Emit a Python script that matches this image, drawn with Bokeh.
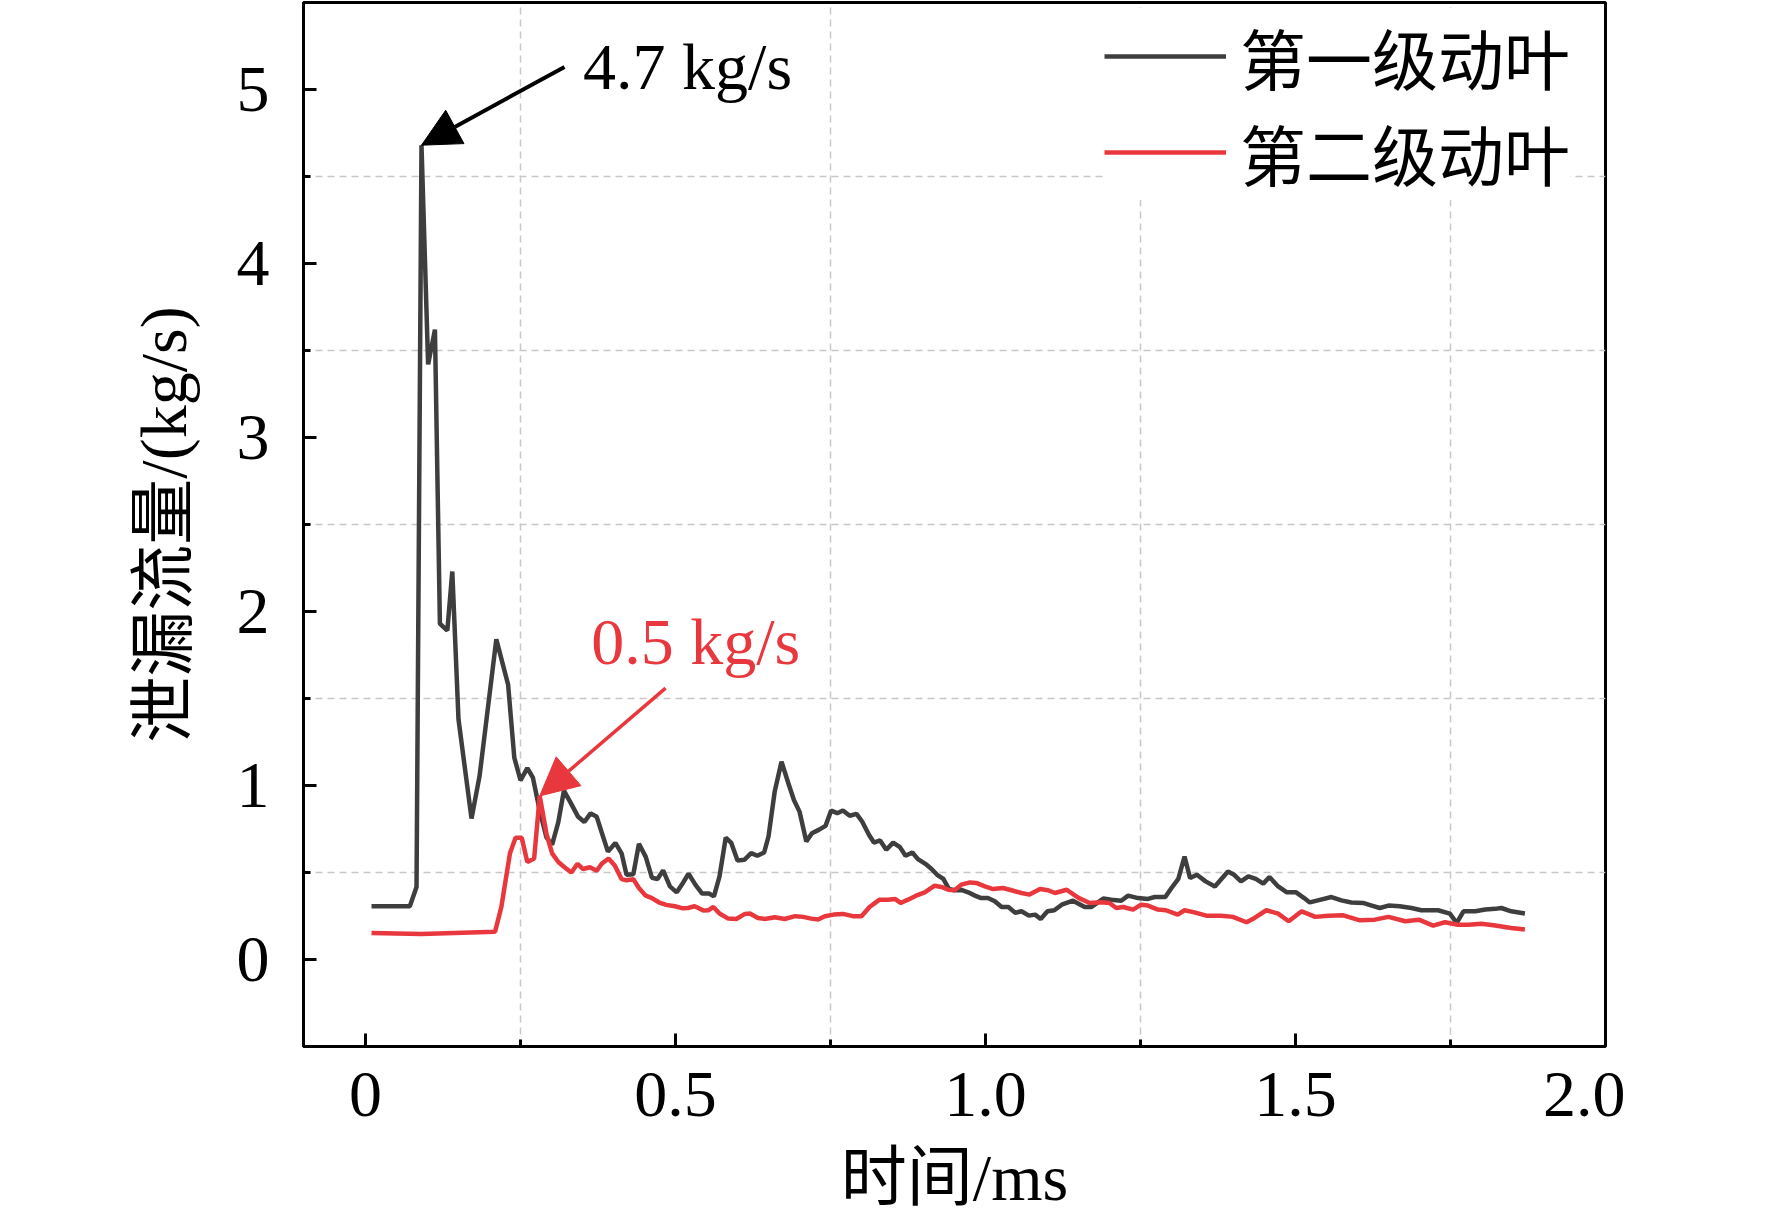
from bokeh.plotting import figure
from bokeh.models import (Range1d, FixedTicker, Legend, LegendItem, Arrow, NormalHead, Label)
from bokeh.embed import file_html
from bokeh.resources import INLINE

# ---------------- data ----------------
# 第一级动叶 (first-stage rotor blade)
t1 = [0.0097, 0.0715, 0.0823, 0.0903, 0.101, 0.112, 0.120, 0.132, 0.140, 0.150,
      0.171, 0.184, 0.211, 0.230, 0.240, 0.250, 0.261, 0.270, 0.281, 0.292,
      0.301, 0.311, 0.320, 0.331, 0.343, 0.353, 0.363, 0.373, 0.381, 0.391,
      0.403, 0.413, 0.421, 0.432, 0.441, 0.452, 0.462, 0.471, 0.480, 0.491,
      0.502, 0.512, 0.521, 0.532, 0.543, 0.554, 0.562, 0.571, 0.581, 0.590,
      0.600, 0.611, 0.622, 0.632, 0.643, 0.650, 0.660, 0.671, 0.682, 0.691,
      0.700, 0.711, 0.720, 0.731, 0.742, 0.751, 0.761, 0.770, 0.781, 0.792,
      0.801, 0.812, 0.820, 0.830, 0.840, 0.851, 0.862, 0.871, 0.882, 0.891,
      0.903, 0.913, 0.922, 0.932, 0.941, 0.950, 0.961, 0.972, 0.983, 0.993,
      1.004, 1.015, 1.026, 1.037, 1.048, 1.058, 1.070, 1.080, 1.089, 1.100,
      1.111, 1.123, 1.141, 1.160, 1.171, 1.190, 1.203, 1.219, 1.230, 1.246,
      1.262, 1.273, 1.290, 1.300, 1.311, 1.321, 1.330, 1.341, 1.355, 1.370,
      1.391, 1.401, 1.412, 1.424, 1.436, 1.448, 1.458, 1.472, 1.486, 1.501,
      1.514, 1.523, 1.536, 1.558, 1.574, 1.590, 1.609, 1.623, 1.636, 1.650,
      1.668, 1.687, 1.703, 1.730, 1.749, 1.760, 1.771, 1.790, 1.806, 1.822,
      1.832, 1.848, 1.870]
q1 = [0.306, 0.306, 0.417, 4.68, 3.42, 3.62, 1.93, 1.89, 2.23, 1.38,
      0.81, 1.055, 1.84, 1.58, 1.16, 1.03, 1.10, 1.045, 0.855, 0.70,
      0.66, 0.79, 0.97, 0.90, 0.82, 0.79, 0.84, 0.82, 0.73, 0.62,
      0.67, 0.61, 0.487, 0.49, 0.665, 0.59, 0.47, 0.463, 0.512, 0.42,
      0.386, 0.44, 0.493, 0.43, 0.379, 0.379, 0.363, 0.478, 0.70, 0.67,
      0.569, 0.573, 0.611, 0.596, 0.615, 0.707, 0.965, 1.137, 1.013, 0.917,
      0.85, 0.678, 0.726, 0.745, 0.768, 0.856, 0.841, 0.856, 0.826, 0.837,
      0.793, 0.717, 0.672, 0.684, 0.631, 0.672, 0.646, 0.596, 0.615, 0.577,
      0.550, 0.520, 0.487, 0.463, 0.405, 0.398, 0.400, 0.386, 0.367, 0.353,
      0.353, 0.335, 0.302, 0.302, 0.268, 0.277, 0.252, 0.258, 0.233, 0.277,
      0.283, 0.315, 0.338, 0.302, 0.302, 0.350, 0.344, 0.338, 0.367, 0.353,
      0.348, 0.359, 0.359, 0.411, 0.463, 0.592, 0.468, 0.487, 0.449, 0.420,
      0.506, 0.487, 0.449, 0.478, 0.463, 0.436, 0.474, 0.420, 0.386, 0.386,
      0.353, 0.328, 0.340, 0.359, 0.340, 0.328, 0.325, 0.310, 0.296, 0.310,
      0.306, 0.296, 0.283, 0.283, 0.264, 0.210, 0.277, 0.277, 0.287, 0.291,
      0.296, 0.277, 0.264]

# 第二级动叶 (second-stage rotor blade)
t2 = [0.0097, 0.0903, 0.209, 0.219, 0.233, 0.242, 0.252, 0.261, 0.272, 0.281,
      0.292, 0.301, 0.311, 0.321, 0.332, 0.342, 0.351, 0.362, 0.373, 0.381,
      0.392, 0.402, 0.413, 0.421, 0.432, 0.441, 0.452, 0.462, 0.473, 0.485,
      0.499, 0.512, 0.520, 0.531, 0.545, 0.553, 0.561, 0.571, 0.585, 0.598,
      0.612, 0.620, 0.633, 0.644, 0.660, 0.676, 0.693, 0.706, 0.719, 0.730,
      0.741, 0.755, 0.770, 0.786, 0.800, 0.813, 0.829, 0.843, 0.854, 0.863,
      0.875, 0.888, 0.902, 0.918, 0.929, 0.940, 0.950, 0.961, 0.975, 0.985,
      0.999, 1.012, 1.028, 1.042, 1.058, 1.071, 1.088, 1.101, 1.112, 1.131,
      1.150, 1.168, 1.187, 1.200, 1.211, 1.222, 1.238, 1.251, 1.262, 1.278,
      1.291, 1.310, 1.321, 1.337, 1.356, 1.380, 1.399, 1.421, 1.434, 1.453,
      1.472, 1.489, 1.510, 1.532, 1.553, 1.577, 1.604, 1.628, 1.650, 1.677,
      1.699, 1.722, 1.741, 1.762, 1.779, 1.800, 1.822, 1.848, 1.870]
q2 = [0.152, 0.146, 0.160, 0.30, 0.61, 0.70, 0.70, 0.56, 0.58, 0.94,
      0.72, 0.61, 0.56, 0.53, 0.50, 0.55, 0.52, 0.53, 0.51, 0.55,
      0.58, 0.54, 0.462, 0.455, 0.462, 0.411, 0.367, 0.353, 0.329, 0.314,
      0.306, 0.294, 0.296, 0.306, 0.281, 0.283, 0.302, 0.264, 0.235, 0.233,
      0.262, 0.264, 0.239, 0.233, 0.243, 0.233, 0.249, 0.245, 0.235, 0.230,
      0.249, 0.258, 0.262, 0.249, 0.249, 0.302, 0.344, 0.344, 0.348, 0.325,
      0.344, 0.367, 0.386, 0.424, 0.417, 0.401, 0.398, 0.430, 0.443, 0.440,
      0.420, 0.405, 0.411, 0.398, 0.382, 0.373, 0.405, 0.398, 0.382, 0.401,
      0.354, 0.325, 0.329, 0.325, 0.296, 0.302, 0.287, 0.315, 0.310, 0.287,
      0.283, 0.258, 0.283, 0.271, 0.252, 0.252, 0.245, 0.214, 0.239, 0.283,
      0.264, 0.220, 0.277, 0.245, 0.252, 0.254, 0.225, 0.229, 0.245, 0.220,
      0.229, 0.195, 0.214, 0.200, 0.200, 0.206, 0.195, 0.181, 0.172]

series_names = ["第一级动叶", "第二级动叶"]
x_ticks = [0, 0.5, 1.0, 1.5, 2.0]
x_tick_labels = ["0", "0.5", "1.0", "1.5", "2.0"]
x_minor = [0.25, 0.75, 1.25, 1.75]
y_ticks = [0, 1, 2, 3, 4, 5]
y_minor = [0.5, 1.5, 2.5, 3.5, 4.5]
peak_labels = ["4.7 kg/s", "0.5 kg/s"]

# ---------------- style ----------------
FONT = "'Liberation Serif', 'Noto Sans CJK SC'"
FS = "66px"
C1 = "#3e3e3e"
C2 = "#e8383d"

p = figure(width=1625, height=1219, output_backend="svg", toolbar_location=None,
           x_range=Range1d(-0.1, 2.0), y_range=Range1d(-0.5, 5.5),
           min_border_left=303, min_border_right=20, min_border_top=2,
           min_border_bottom=173,
           x_axis_label="时间/ms", y_axis_label="泄漏流量/(kg/s)")

p.outline_line_color = "black"
p.outline_line_width = 3
p.background_fill_color = "white"

p.xaxis.ticker = FixedTicker(ticks=x_ticks, minor_ticks=x_minor)
p.xaxis.major_label_overrides = {k: v for k, v in zip(x_ticks, x_tick_labels)}
p.yaxis.ticker = FixedTicker(ticks=y_ticks, minor_ticks=y_minor)

for ax in (p.xaxis, p.yaxis):
    ax.axis_line_width = 3
    ax.axis_line_color = "black"
    ax.major_tick_in = 13
    ax.major_tick_out = 0
    ax.minor_tick_in = 7
    ax.minor_tick_out = 0
    ax.major_tick_line_width = 3
    ax.minor_tick_line_width = 3
    ax.major_tick_line_color = "black"
    ax.minor_tick_line_color = "black"
    ax.major_label_text_font = FONT
    ax.major_label_text_font_size = FS
    ax.major_label_text_color = "black"
    ax.axis_label_text_font = FONT
    ax.axis_label_text_font_size = FS
    ax.axis_label_text_font_style = "normal"
    ax.axis_label_text_color = "black"

p.xaxis.major_label_standoff = 26
p.xaxis.axis_label_standoff = 22
p.yaxis.major_label_standoff = 34
p.yaxis.axis_label_standoff = 34

for g in (p.xgrid, p.ygrid):
    g.grid_line_color = None
    g.minor_grid_line_color = "#c8c8c8"
    g.minor_grid_line_dash = "7 5"
    g.minor_grid_line_width = 1.5
p.xgrid.ticker = p.xaxis.ticker
p.ygrid.ticker = p.yaxis.ticker

r1 = p.line(t1, q1, line_color=C1, line_width=4.5)
r2 = p.line(t2, q2, line_color=C2, line_width=4.5)

# annotations (arrow tips at series peaks)
i1 = max(range(len(q1)), key=lambda i: q1[i])
i2 = max(range(len(q2)), key=lambda i: q2[i])
p.add_layout(Arrow(end=NormalHead(size=38, fill_color="black", line_color="black"),
                   x_start=0.321, y_start=5.13, x_end=t1[i1], y_end=q1[i1],
                   line_color="black", line_width=4))
p.add_layout(Arrow(end=NormalHead(size=38, fill_color=C2, line_color=C2),
                   x_start=0.484, y_start=1.56, x_end=t2[i2], y_end=q2[i2],
                   line_color=C2, line_width=3.5))
p.add_layout(Label(x=0.351, y=5.13, text=peak_labels[0], text_font=FONT,
                   text_font_size=FS, text_color="black", text_baseline="middle"))
p.add_layout(Label(x=0.364, y=1.83, text=peak_labels[1], text_font=FONT,
                   text_font_size=FS, text_color=C2, text_baseline="middle"))

legend = Legend(items=[LegendItem(label=series_names[0], renderers=[r1]),
                       LegendItem(label=series_names[1], renderers=[r2])],
                location=(801, 846))
legend.label_text_font = FONT
legend.label_text_font_size = FS
legend.label_text_color = "black"
legend.glyph_width = 122
legend.glyph_height = 20
legend.label_standoff = 14
legend.padding = 15
legend.spacing = -7
legend.border_line_color = None
legend.background_fill_color = "white"
legend.background_fill_alpha = 1.0
p.add_layout(legend)

open("out.html", "w").write(file_html(p, INLINE))
